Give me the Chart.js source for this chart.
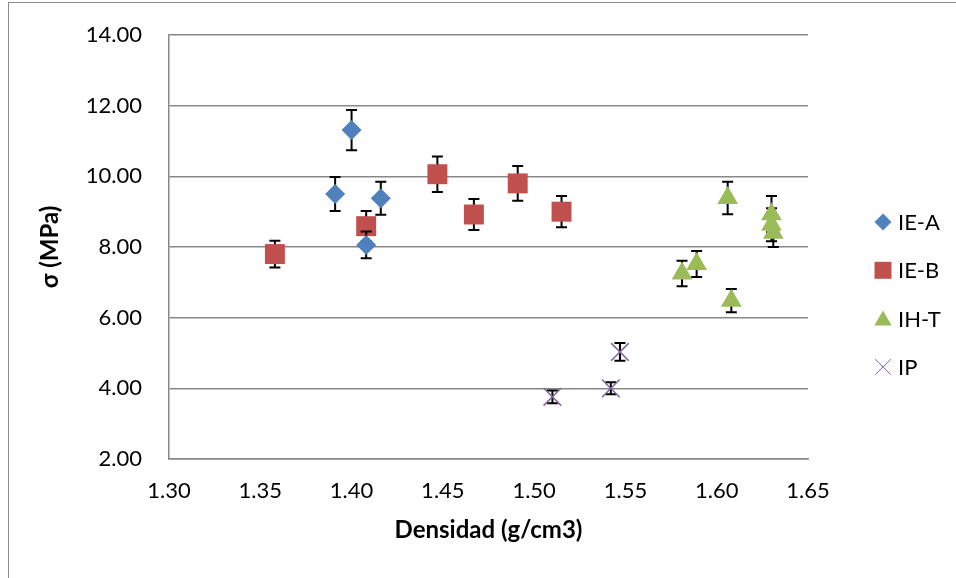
<!DOCTYPE html>
<html>
<head>
<meta charset="utf-8">
<script src="https://cdn.jsdelivr.net/npm/chart.js@4/dist/chart.umd.min.js"></script>
<style>
  body { margin: 0; background: #fff; }
  canvas { display: block; }
</style>
</head>
<body>
<canvas id="densityChart" width="956" height="578"></canvas>
<script>
'use strict';

// series values (density, strength, error)
var ieaX = [1.400, 1.391, 1.416, 1.408];
var ieaY = [11.31, 9.50, 9.38, 8.06];
var ieaErr = [0.57, 0.48, 0.47, 0.38];

var iebX = [1.358, 1.408, 1.447, 1.467, 1.491, 1.515];
var iebY = [7.80, 8.59, 10.06, 8.92, 9.80, 9.00];
var iebErr = [0.38, 0.43, 0.50, 0.44, 0.49, 0.44];

var ihtX = [1.606, 1.581, 1.589, 1.608, 1.630, 1.630, 1.631];
var ihtY = [9.39, 7.25, 7.52, 6.48, 8.93, 8.63, 8.40];
var ihtErr = [0.46, 0.36, 0.37, 0.33, 0.51, 0.47, 0.40];

var ipX = [1.510, 1.542, 1.547];
var ipY = [3.76, 4.00, 5.03];
var ipErr = [0.18, 0.17, 0.25];

var seriesNames = ['IE-A', 'IE-B', 'IH-T', 'IP'];
var xTitle = 'Densidad (g/cm3)';
var yTitle = 'σ (MPa)';

var blue = '#4F81BD', red = '#C0504D', green = '#9BBB59', purple = '#8064A2';
var gridGray = '#888888';

function pts(xs, ys) {
    return xs.map(function (x, i) { return {x: x, y: ys[i]}; });
}

Chart.defaults.font.family = 'Lato, "Open Sans", sans-serif';
Chart.defaults.color = '#000';

var errorBars = {
    id: 'errorBars',
    beforeDatasetDraw: function (chart, args) {
        var ds = chart.data.datasets[args.index];
        var meta = args.meta;
        var yScale = chart.scales.y;
        var ctx = chart.ctx;
        ctx.save();
        ctx.strokeStyle = '#000';
        ctx.lineWidth = 2;
        meta.data.forEach(function (el, i) {
            var v = ds.data[i].y, e = ds.errors[i];
            var top = yScale.getPixelForValue(v + e);
            var bot = yScale.getPixelForValue(v - e);
            ctx.beginPath();
            ctx.moveTo(el.x, top);
            ctx.lineTo(el.x, bot);
            ctx.moveTo(el.x - 5.5, top);
            ctx.lineTo(el.x + 5.5, top);
            ctx.moveTo(el.x - 5.5, bot);
            ctx.lineTo(el.x + 5.5, bot);
            ctx.stroke();
        });
        ctx.restore();
    }
};

var frame = {
    id: 'frame',
    beforeDraw: function (chart) {
        var ctx = chart.ctx;
        ctx.save();
        ctx.fillStyle = '#fff';
        ctx.fillRect(0, 0, chart.width, chart.height);
        ctx.strokeStyle = '#8c8c8c';
        ctx.lineWidth = 1;
        ctx.strokeRect(8.5, 2.5, 2000, 2000);
        ctx.restore();
    }
};

// legend on the right, drawn with the library's own point shapes
var sideLegend = {
    id: 'sideLegend',
    afterDraw: function (chart) {
        var ctx = chart.ctx;
        var sizes = [8.5, 12, 10, 11];
        ctx.save();
        ctx.font = '22px Lato, "Open Sans", sans-serif';
        ctx.textBaseline = 'middle';
        ctx.textAlign = 'left';
        chart.data.datasets.forEach(function (ds, i) {
            var y = 222 + i * 48.3;
            ctx.fillStyle = ds.backgroundColor;
            ctx.strokeStyle = ds.borderColor;
            Chart.helpers.drawPoint(ctx, {
                pointStyle: ds.pointStyle,
                radius: sizes[i],
                rotation: 0,
                borderWidth: ds.pointBorderWidth
            }, 883, i === 2 ? y + 2 : y);
            ctx.fillStyle = '#000';
            ctx.fillText(ds.label, 898, y + 1);
        });
        ctx.restore();
    }
};

var densityChart = new Chart(document.getElementById('densityChart'), {
    type: 'scatter',
    data: {
        datasets: [
            {
                label: seriesNames[0],
                data: pts(ieaX, ieaY),
                errors: ieaErr,
                pointStyle: 'rectRot',
                pointRadius: 10,
                backgroundColor: blue,
                borderColor: blue,
                pointBorderWidth: 0
            },
            {
                label: seriesNames[1],
                data: pts(iebX, iebY),
                errors: iebErr,
                pointStyle: 'rect',
                pointRadius: 14.1,
                backgroundColor: red,
                borderColor: red,
                pointBorderWidth: 0
            },
            {
                label: seriesNames[2],
                data: pts(ihtX, ihtY),
                errors: ihtErr,
                pointStyle: 'triangle',
                pointRadius: 12,
                backgroundColor: green,
                borderColor: green,
                pointBorderWidth: 0
            },
            {
                label: seriesNames[3],
                data: pts(ipX, ipY),
                errors: ipErr,
                pointStyle: 'crossRot',
                pointRadius: 12.5,
                backgroundColor: purple,
                borderColor: purple,
                pointBorderWidth: 1.5
            }
        ]
    },
    options: {
        responsive: false,
        animation: false,
        layout: {
            padding: {left: 36, right: 148, top: 35, bottom: 33}
        },
        plugins: {
            legend: {display: false},
            tooltip: {enabled: false}
        },
        scales: {
            x: {
                type: 'linear',
                min: 1.30,
                max: 1.65,
                afterFit: function (scale) { scale.height = 86; },
                ticks: {
                    stepSize: 0.05,
                    padding: 19,
                    font: {size: 22},
                    maxRotation: 0,
                    callback: function (v) { return Number(v).toFixed(2); }
                },
                grid: {display: false, drawTicks: false},
                border: {display: true, color: gridGray, width: 1.5},
                title: {
                    display: true,
                    text: xTitle,
                    font: {size: 24, weight: 'bold'},
                    padding: {top: 0, bottom: 0}
                }
            },
            y: {
                type: 'linear',
                min: 2,
                max: 14,
                afterFit: function (scale) {
                    scale.width = 133;
                    // tick padding is horizontal here, keep it out of the top/bottom room
                    scale.paddingTop = 13;
                    scale.paddingBottom = 13;
                },
                ticks: {
                    stepSize: 2,
                    padding: 27,
                    font: {size: 22},
                    callback: function (v) { return Number(v).toFixed(2); }
                },
                grid: {color: gridGray, lineWidth: 1.5, drawTicks: false},
                border: {display: true, color: gridGray, width: 1.5},
                title: {
                    display: true,
                    text: yTitle,
                    font: {size: 24, weight: 'bold'},
                    padding: {top: 0, bottom: 0}
                }
            }
        }
    },
    plugins: [frame, errorBars, sideLegend]
});
</script>
</body>
</html>
